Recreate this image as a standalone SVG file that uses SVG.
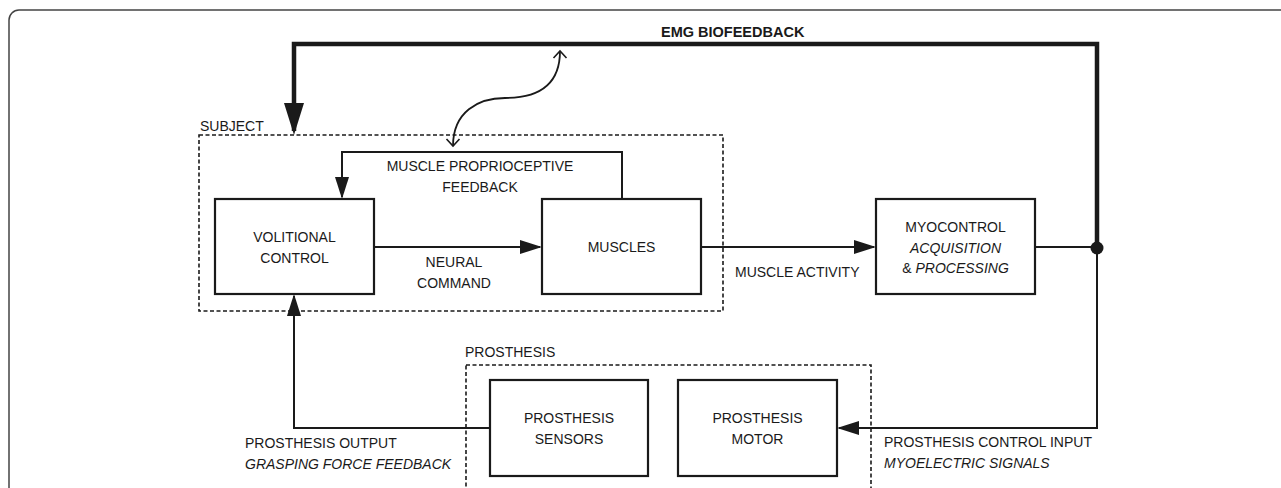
<svg xmlns="http://www.w3.org/2000/svg" width="1281" height="488" viewBox="0 0 1281 488">
<style>
  text{font-family:"Liberation Sans",Arial,sans-serif;font-size:14px;fill:#1a1a1a}
  .c{text-anchor:middle}
  .i{font-style:italic}
  .b{font-weight:bold;font-size:14.5px}
  .box{fill:#fff;stroke:#1a1a1a;stroke-width:2.2}
  .grp{fill:none;stroke:#1a1a1a;stroke-width:1.6;stroke-dasharray:4 2.5}
  .ln{fill:none;stroke:#1a1a1a;stroke-width:2}
  .thick{fill:none;stroke:#1a1a1a;stroke-width:4.5}
</style>
<defs>
  <marker id="arr" markerUnits="userSpaceOnUse" markerWidth="22" markerHeight="14" refX="20" refY="7" orient="auto">
    <path d="M0,0 L22,7 L0,14 Z" fill="#1a1a1a"/>
  </marker>
  <marker id="arrBig" markerUnits="userSpaceOnUse" markerWidth="32" markerHeight="20" refX="28" refY="10" orient="auto">
    <path d="M0,0 L32,10 L0,20 Z" fill="#1a1a1a"/>
  </marker>
  <marker id="chev" markerUnits="userSpaceOnUse" markerWidth="12" markerHeight="16" refX="9" refY="8" orient="auto-start-reverse">
    <path d="M2,1.5 L9,8 L2,14.5" fill="none" stroke="#1a1a1a" stroke-width="1.6"/>
  </marker>
</defs>
<rect width="1281" height="488" fill="#fff"/>
<path d="M9,500 V20 A10,10 0 0 1 19,10 H1290" fill="none" stroke="#444" stroke-width="1.5"/>

<g id="subject">
  <rect class="grp" x="199" y="135" width="524" height="176"/>
  <text x="200" y="131">SUBJECT</text>
</g>
<g id="prosthesis">
  <rect class="grp" x="466" y="365" width="405" height="140"/>
  <text x="465" y="357">PROSTHESIS</text>
</g>
<g id="volitional">
  <rect class="box" x="215" y="199" width="159" height="95"/>
  <text class="c" x="294.5" y="242">VOLITIONAL</text>
  <text class="c" x="294.5" y="263">CONTROL</text>
</g>
<g id="muscles">
  <rect class="box" x="542" y="199" width="159" height="95"/>
  <text class="c" x="621.5" y="252">MUSCLES</text>
</g>
<g id="myocontrol">
  <rect class="box" x="876" y="199" width="159" height="95"/>
  <text class="c" x="955.5" y="232">MYOCONTROL</text>
  <text class="c i" x="955.5" y="253">ACQUISITION</text>
  <text class="c" x="955.5" y="273">&amp; <tspan class="i">PROCESSING</tspan></text>
</g>
<g id="sensors">
  <rect class="box" x="490" y="380" width="158" height="96"/>
  <text class="c" x="569" y="423">PROSTHESIS</text>
  <text class="c" x="569" y="444">SENSORS</text>
</g>
<g id="motor">
  <rect class="box" x="678" y="380" width="159" height="96"/>
  <text class="c" x="757.5" y="423">PROSTHESIS</text>
  <text class="c" x="757.5" y="444">MOTOR</text>
</g>

<g id="connectors">
  <path class="thick" d="M1097,248 V44 H294 V131" marker-end="url(#arrBig)"/>
  <path class="ln" d="M622,199 V152 H342 V197" marker-end="url(#arr)"/>
  <path class="ln" d="M374,247 H540" marker-end="url(#arr)"/>
  <path class="ln" d="M701,247 H874" marker-end="url(#arr)"/>
  <path class="ln" d="M1035,247 H1097"/>
  <circle cx="1097" cy="248" r="6.5" fill="#1a1a1a"/>
  <path class="ln" d="M1097,248 V428 H839" marker-end="url(#arr)"/>
  <path class="ln" d="M490,428 H294 V296" marker-end="url(#arr)"/>
  <path d="M453,146 C453,112 478,98 505,98 C538,98 560,85 560,51" fill="none" stroke="#1a1a1a" stroke-width="1.8" marker-start="url(#chev)" marker-end="url(#chev)"/>
  <text class="b" x="661" y="37">EMG BIOFEEDBACK</text>
  <text class="c" x="480" y="171">MUSCLE PROPRIOCEPTIVE</text>
  <text class="c" x="480" y="192">FEEDBACK</text>
  <text class="c" x="454" y="267">NEURAL</text>
  <text class="c" x="454" y="288">COMMAND</text>
  <text x="735" y="277">MUSCLE ACTIVITY</text>
  <text x="245" y="448">PROSTHESIS OUTPUT</text>
  <text class="i" x="245" y="469">GRASPING FORCE FEEDBACK</text>
  <text x="884" y="447">PROSTHESIS CONTROL INPUT</text>
  <text class="i" x="884" y="468">MYOELECTRIC SIGNALS</text>
</g>
</svg>
